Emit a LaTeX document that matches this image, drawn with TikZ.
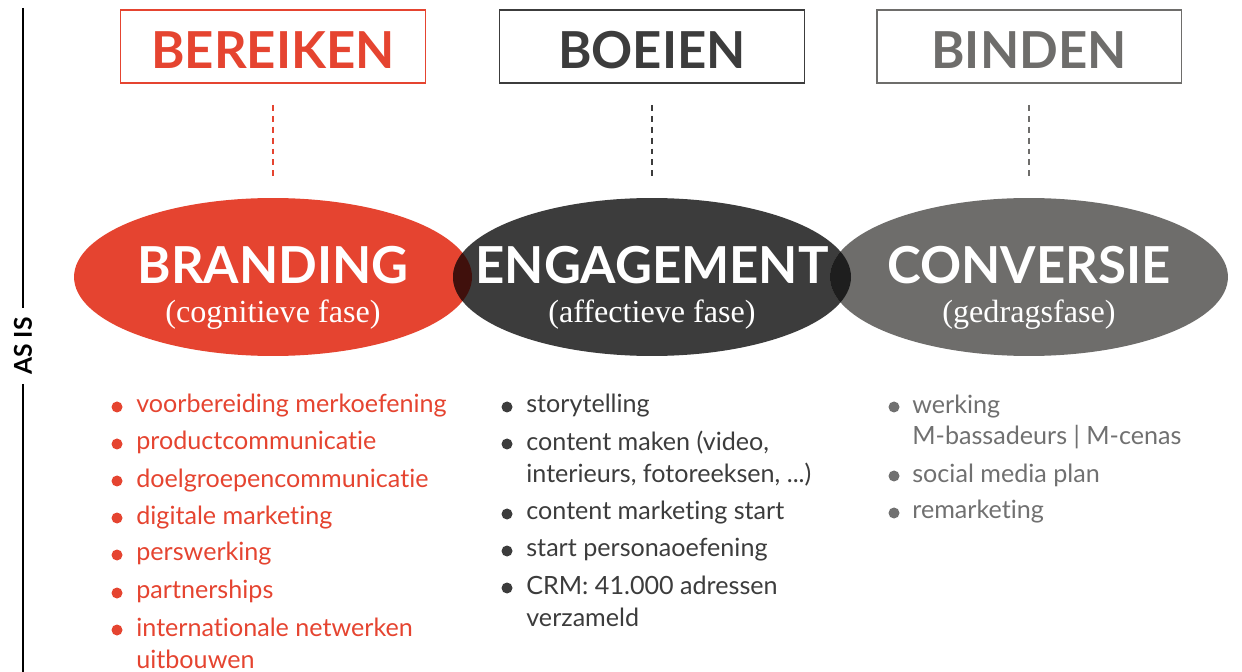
\documentclass[tikz,border=0pt]{standalone}
\usepackage{fontspec}
\setmainfont{Lato}[Ligatures=NoCommon]
\newfontfamily\subfont{Liberation Serif}
\usepackage{tikz}
\usetikzlibrary{shapes.geometric,positioning}
\definecolor{brandRed}{RGB}{229,68,48}
\definecolor{engageDark}{RGB}{60,60,60}
\definecolor{convGray}{RGB}{110,109,107}
\definecolor{overlapRed}{RGB}{64,16,12}
\definecolor{overlapDark}{RGB}{30,30,30}
\definecolor{listGray}{RGB}{112,112,112}

\begin{document}
\begin{tikzpicture}[x=0.02cm,y=-0.02cm,
  phasebox/.style={draw,line width=1.1pt,minimum width=6.1cm,minimum height=1.46cm,inner sep=0pt,text height=24.8pt,text depth=0pt,font=\fontsize{29}{29}\selectfont\bfseries},
  phase/.style={ellipse,minimum width=7.96cm,minimum height=3.16cm,inner sep=0pt},
  ptitle/.style={anchor=base,text=white,font=\fontsize{29}{29}\selectfont\bfseries},
  psub/.style={anchor=base,text=white,font=\fontsize{18.3}{18}\selectfont\subfont},
  dashlink/.style={line width=1.1pt,dash pattern=on 3.4pt off 2.8pt,shorten <=0.42cm,shorten >=0.4cm},
  itemtext/.style={anchor=base west,align=left,inner sep=0pt,font=\fontsize{14.3}{18.1}\selectfont}
]
\useasboundingbox (0,0) rectangle (1242,672);

% side label
\coordinate (railtop) at (23,8);
\coordinate (railbot) at (23,672);
\node[rotate=90,font=\fontsize{14}{14}\selectfont\bfseries,inner sep=5pt] (asis) at (23,346) {AS IS};
\draw[line width=1.1pt] (railtop) -- (asis.east);
\draw[line width=1.1pt] (asis.west) -- (railbot);

% top boxes
\node[phasebox,color=brandRed] (bereiken) at (273,46.5) {BEREIKEN};
\node[phasebox,color=engageDark] (boeien) at (652,46.5) {BOEIEN};
\node[phasebox,color=convGray] (binden) at (1029,46.5) {BINDEN};

% ellipses
\node[phase,fill=brandRed] (branding) at (273,277) {};
\node[phase,fill=engageDark] (engagement) at (652,277) {};
\node[phase,fill=convGray] (conversie) at (1029,277) {};
\begin{scope}
  \clip (273,277) ellipse [x radius=199, y radius=79];
  \fill[overlapRed] (652,277) ellipse [x radius=199, y radius=79];
\end{scope}
\begin{scope}
  \clip (652,277) ellipse [x radius=199, y radius=79];
  \fill[overlapDark] (1029,277) ellipse [x radius=199, y radius=79];
\end{scope}

\draw[dashlink,brandRed] (bereiken) -- (branding);
\draw[dashlink,engageDark] (boeien) -- (engagement);
\draw[dashlink,convGray] (binden) -- (conversie);

\node[ptitle] (brandingT) at (273,284) {BRANDING};
\node[psub] (brandingS) at (273,323) {(cognitieve fase)};
\node[ptitle] (engagementT) at (652,284) {ENGAGEMENT};
\node[psub] (engagementS) at (652,323) {(affectieve fase)};
\node[ptitle] (conversieT) at (1029,284) {CONVERSIE};
\node[psub] (conversieS) at (1029,323) {(gedragsfase)};

% lists (base of a wrapped item = its last line)
\foreach \y in {407,444,481,518,555,593,630}
  \fill[brandRed] (117,\y) circle (5.5);
\node[itemtext,text=brandRed] (b1) at (136,413) {voorbereiding merkoefening};
\node[itemtext,text=brandRed] (b2) at (136,450) {productcommunicatie};
\node[itemtext,text=brandRed] (b3) at (136,487) {doelgroepencommunicatie};
\node[itemtext,text=brandRed] (b4) at (136,524) {digitale marketing};
\node[itemtext,text=brandRed] (b5) at (136,561) {perswerking};
\node[itemtext,text=brandRed] (b6) at (136,599) {partnerships};
\node[itemtext,text=brandRed] (b7) at (136,668) {internationale netwerken\\uitbouwen};

\foreach \y in {407,444,514,551,588}
  \fill[engageDark] (507,\y) circle (5.5);
\node[itemtext,text=engageDark] (e1) at (526,413) {storytelling};
\node[itemtext,text=engageDark] (e2) at (526,482) {content maken (video,\\interieurs, fotoreeksen, ...)};
\node[itemtext,text=engageDark] (e3) at (526,520) {content marketing start};
\node[itemtext,text=engageDark] (e4) at (526,557) {start personaoefening};
\node[itemtext,text=engageDark] (e5) at (526,626) {CRM: 41.000 adressen\\verzameld};

\foreach \y in {407,476,513}
  \fill[listGray] (894,\y) circle (5.5);
\node[itemtext,text=listGray] (c1) at (912,445) {werking\\M-bassadeurs | M-cenas};
\node[itemtext,text=listGray] (c2) at (912,482) {social media plan};
\node[itemtext,text=listGray] (c3) at (912,519) {remarketing};
\end{tikzpicture}
\end{document}
